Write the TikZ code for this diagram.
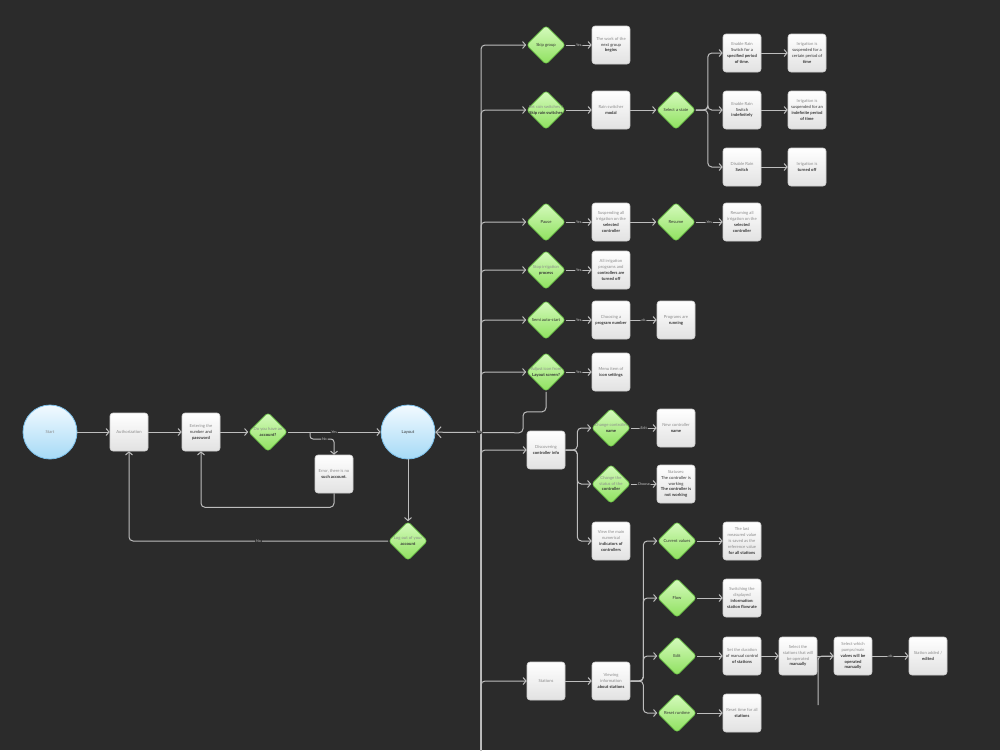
\documentclass[tikz,border=0pt]{standalone}
\usepackage{fontspec}
\setmainfont{Lato}
\usetikzlibrary{shapes.geometric,arrows.meta}

\definecolor{bgc}{HTML}{2B2B2B}
\definecolor{wire}{HTML}{BDBDBD}
\definecolor{txtgrey}{HTML}{8C8C8C}
\definecolor{txtdark}{HTML}{333333}
\definecolor{boxtop}{HTML}{FFFFFF}
\definecolor{boxbot}{HTML}{E2E2E2}
\definecolor{boxline}{HTML}{CFCFCF}
\definecolor{grtop}{HTML}{D6FBBE}
\definecolor{grbot}{HTML}{8EE05E}
\definecolor{grline}{HTML}{6FC84A}
\definecolor{bltop}{HTML}{F2FAFF}
\definecolor{blbot}{HTML}{A6DAF6}
\definecolor{blline}{HTML}{7CC0EA}

\newcommand{\bt}[1]{{\bfseries\color{txtdark}#1}}
\newcommand{\dk}[1]{{\color{txtdark}#1}}
\newcommand{\dlab}[1]{\makebox[0pt]{\begin{tabular}{@{}c@{}}#1\end{tabular}}}

\begin{document}
\begin{tikzpicture}[
    x=1pt, y=-1pt,
    every node/.style={font=\fontsize{4.2}{5.8}\selectfont, text=txtgrey},
    box/.style={rectangle, rounded corners=3pt, minimum width=38pt, minimum height=38pt,
        inner sep=1pt, align=center, top color=boxtop, bottom color=boxbot, draw=boxline, line width=0.6pt},
    dia/.style={diamond, minimum size=39pt, inner sep=0pt, rounded corners=3pt,
        top color=grtop, bottom color=grbot, draw=grline, line width=0.6pt},
    circ/.style={circle, minimum size=54pt, inner sep=0pt,
        top color=bltop, bottom color=blbot, draw=blline, line width=0.8pt},
    link/.style={draw=wire, line width=1pt, rounded corners=4pt,
        -{Straight Barb[length=3pt,width=7pt,line width=1pt]}},
    wireonly/.style={draw=wire, line width=1pt, rounded corners=4pt},
    lbl/.style={fill=bgc, inner sep=1pt, text=wire!80, font=\fontsize{3.6}{4}\selectfont}
    ]
    \useasboundingbox (0,0) rectangle (1000,750);
    \fill[bgc] (0,0) rectangle (1000,750);

    % Login
    \node[circ] (start) at (50,432) {Start};
    \node[box] (auth) at (129,432) {Authorization};
    \node[box] (ent) at (201,432) {Entering the\\\dk{number and}\\\bt{password}};
    \node[dia] (acc) at (268,432) {\dlab{Do you have an\\\bt{account?}}};
    \node[circ] (lay) at (408,432) {\dk{Layout}};
    \node[box] (err) at (334,474) {Error, there is no\\\bt{such account.}};
    \node[dia] (out) at (408,541) {\dlab{Log out of your\\\bt{account}}};
    \coordinate (nob) at (310,432);

    \draw[link] (start) -- (auth);
    \draw[link] (auth) -- (ent);
    \draw[link] (ent) -- (acc);
    \draw[link] (acc) -- node[lbl]{Yes} (lay);
    \draw[link, rounded corners=3pt] (nob) -- ++(0,7) -| node[lbl,pos=0.3]{No} (err);
    \draw[link] (err.south) -- ++(0,14) -| (ent.south);
    \draw[link] (lay) -- (out);
    \draw[link] (out.west) -| node[lbl,pos=0.25]{No} (auth.south);

    % Layout menu
    \coordinate (tb) at (481,752);
    \node[dia] (skip) at (546,45) {\dlab{\dk{Skip group}}};
    \node[box] (work) at (611,45) {The work of the\\\dk{next group}\\\bt{begins}};
    \node[dia] (rain) at (546,110) {\dlab{Set rain switches /\\\bt{Skip rain switches}}};
    \node[box] (rsm) at (611,110) {Rain switcher\\\bt{modal}};
    \node[dia] (sel) at (676,110) {\dlab{\dk{Select a state}}};
    \node[box] (en1) at (742,53) {Enable Rain\\\dk{Switch for a}\\\bt{specified period}\\\bt{of time.}};
    \node[box] (ir1) at (807,53) {Irrigation is\\\dk{suspended for a}\\\dk{certain period of}\\\bt{time}};
    \node[box] (en2) at (742,110) {Enable Rain\\\dk{Switch}\\\bt{indefinitely}};
    \node[box] (ir2) at (807,110) {Irrigation is\\\dk{suspended for an}\\\bt{indefinite period}\\\bt{of time}};
    \node[box] (dis) at (742,167) {Disable Rain\\\bt{Switch}};
    \node[box] (ir3) at (807,167) {Irrigation is\\\bt{turned off}};
    \node[dia] (pause) at (546,222) {\dlab{\dk{Pause}}};
    \node[box] (susp) at (611,222) {Suspending all\\irrigation on the\\\bt{selected}\\\bt{controller}};
    \node[dia] (res) at (676,222) {\dlab{\dk{Resume}}};
    \node[box] (resm) at (742,222) {Resuming all\\irrigation on the\\\bt{selected}\\\bt{controller}};
    \node[dia] (stop) at (546,270) {\dlab{Stop irrigation\\\bt{process}}};
    \node[box] (alloff) at (611,270) {All irrigation\\programs and\\\bt{controllers are}\\\bt{turned off}};
    \node[dia] (semi) at (546,320) {\dlab{\dk{Semi auto-start}}};
    \node[box] (prn) at (611,320) {Choosing a\\\bt{program number}};
    \node[box] (run) at (676,320) {Programs are\\\bt{running}};
    \node[dia] (adj) at (546,372) {\dlab{Adjust icon from\\\bt{Layout screen?}}};
    \node[box] (menu) at (611,372) {Menu item of\\\bt{icon settings}};

    \draw[link] (tb) |- (skip);
    \foreach \n in {rain,pause,stop,semi,adj}
        \draw[link] (tb) |- (\n);
    \draw[link] (skip) -- node[lbl]{Yes} (work);
    \draw[link] (rain) -- (rsm);
    \draw[link] (rsm) -- (sel);
    \foreach \n in {en1,en2,dis}
        \draw[link] (sel.east) -- ++(12,0) |- (\n);
    \draw[link] (en1) -- (ir1);
    \draw[link] (en2) -- (ir2);
    \draw[link] (dis) -- (ir3);
    \draw[link] (pause) -- node[lbl]{Yes} (susp);
    \draw[link] (susp) -- (res);
    \draw[link] (res) -- node[lbl]{Yes} (resm);
    \draw[link] (stop) -- node[lbl]{Yes} (alloff);
    \draw[link] (semi) -- node[lbl]{Yes} (prn);
    \draw[link] (prn) -- node[lbl]{ok} (run);
    \draw[link] (adj) -- node[lbl]{Yes} (menu);
    \draw[link, -{Straight Barb[length=5pt,width=11pt,line width=1pt]}]
        (adj.south) -- ++(0,20) -| ++(-23,21) -- node[lbl]{No} (lay);

    % Controller info
    \node[box] (disc) at (546,450) {Discovering\\\bt{controller info}};
    \node[dia] (cname) at (611,428) {\dlab{Change controller\\\bt{name}}};
    \node[box] (newn) at (676,428) {New controller\\\bt{name}};
    \node[dia] (cstat) at (611,484) {\dlab{Change the\\status of the\\\bt{controller}}};
    \node[box] (stat) at (676,484) {Statuses:\\\dk{The controller is}\\\dk{working}\\\bt{The controller is}\\\bt{not working}};
    \node[box] (vmain) at (611,541) {View the main\\numerical\\\bt{indicators of}\\\bt{controllers}};

    \draw[link] (tb) |- (disc);
    \foreach \n in {cname,cstat,vmain}
        \draw[link] (disc.east) -- ++(12,0) |- (\n);
    \draw[link] (cname) -- node[lbl]{Edit} (newn);
    \draw[link] (cstat) -- node[lbl]{Choose} (stat);

    % Stations
    \node[box] (stn) at (546,681) {Stations};
    \node[box] (vinfo) at (611,681) {Viewing\\information\\\bt{about stations}};
    \node[dia] (cur) at (677,541) {\dlab{\dk{Current values}}};
    \node[box] (last) at (742,541) {The last\\measured value\\is saved as the\\reference value\\\bt{for all stations}};
    \node[dia] (flow) at (677,598) {\dlab{\dk{Flow}}};
    \node[box] (swi) at (742,598) {Switching the\\displayed\\\bt{information:}\\\bt{station flowrate}};
    \node[dia] (edit) at (677,656) {\dlab{\dk{Edit}}};
    \node[box] (dur) at (742,656) {Set the duration\\\dk{of manual control}\\\bt{of stations}};
    \node[box] (sst) at (798,656) {Select the\\stations that will\\be operated\\\bt{manually}};
    \node[box] (swh) at (853,656) {Select which\\pumps/main\\\bt{valves will be}\\\bt{operated}\\\bt{manually}};
    \node[box] (added) at (928,656) {Station added /\\\bt{edited}};
    \node[dia] (reset) at (677,713) {\dlab{\dk{Reset runtime}}};
    \node[box] (rtime) at (742,713) {Reset time for all\\\bt{stations}};
    \coordinate (dang) at (818,705);

    \draw[link] (tb) |- (stn);
    \draw[link] (stn) -- (vinfo);
    \foreach \n in {cur,flow,edit,reset}
        \draw[link] (vinfo.east) -- ++(13,0) |- (\n);
    \draw[link] (cur) -- (last);
    \draw[link] (flow) -- (swi);
    \draw[link] (edit) -- (dur);
    \draw[link] (dur) -- (sst);
    \draw[link] (sst) -- (swh);
    \draw[wireonly] (dang) |- (swh.west);
    \draw[link] (swh) -- node[lbl]{ok} (added);
    \draw[link] (reset) -- (rtime);

\end{tikzpicture}
\end{document}
